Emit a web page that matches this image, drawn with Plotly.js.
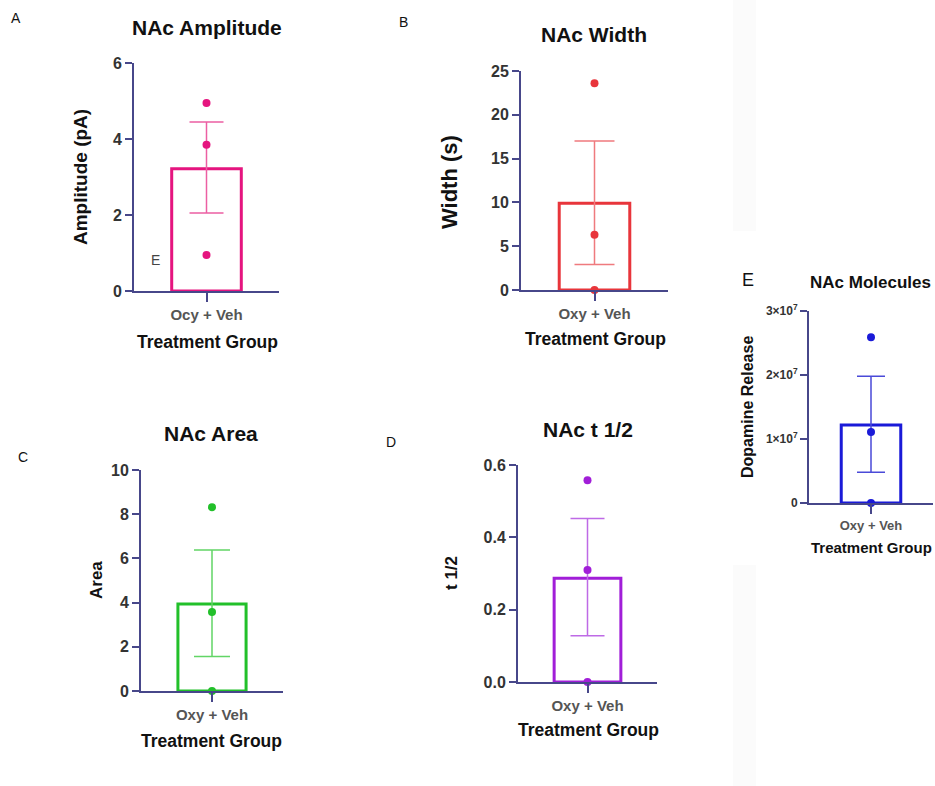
<!DOCTYPE html>
<html>
<head>
<meta charset="utf-8">
<script src="https://cdn.plot.ly/plotly-3.0.1.min.js"></script>
<style>html,body{margin:0;padding:0;background:#fff;}#chart{width:935px;height:786px;}</style>
</head>
<body>
<div id="chart"></div>
<script>
// ---- data ----
const catA = ["Ocy + Veh"];
const catOther = ["Oxy + Veh"];

const ampMean = [3.22];
const ampErrPlus = [1.23];
const ampErrMinus = [1.17];
const ampPoints = [4.95, 3.85, 0.95];

const widthMean = [9.9];
const widthErrPlus = [7.1];
const widthErrMinus = [7.0];
const widthPoints = [23.6, 6.3, 0];

const areaMean = [3.94];
const areaErrPlus = [2.44];
const areaErrMinus = [2.38];
const areaPoints = [8.32, 3.57, 0];

const t12Mean = [0.287];
const t12ErrPlus = [0.165];
const t12ErrMinus = [0.159];
const t12Points = [0.558, 0.31, 0];

const molMean = [1.22e7];
const molErrPlus = [0.76e7];
const molErrMinus = [0.74e7];
const molPoints = [2.59e7, 1.11e7, 0];

const molTickVals = [0, 1e7, 2e7, 3e7];
const molTickText = ["0", "1×10<sup>7</sup>", "2×10<sup>7</sup>", "3×10<sup>7</sup>"];

// ---- layout helpers ----
const W = 935, H = 786;
const px = x => x / W;
const py = y => 1 - y / H;
const AXIS = "#47478a";
const FONT = "Liberation Sans, Arial, sans-serif";

const panels = [
  {id:"", cats:catA, mean:ampMean, ep:ampErrPlus, em:ampErrMinus, pts:ampPoints,
   color:"#e5157f", ecolor:"#ec5fa3", box:[134,279,63,291], range:[0,6], dtick:2, cap:17, tfs:16, cfs:15},
  {id:"2", cats:catOther, mean:widthMean, ep:widthErrPlus, em:widthErrMinus, pts:widthPoints,
   color:"#e8353b", ecolor:"#ef7a7e", box:[521,668,71,290], range:[0,25], dtick:5, cap:20, tfs:16, cfs:15},
  {id:"3", cats:catOther, mean:areaMean, ep:areaErrPlus, em:areaErrMinus, pts:areaPoints,
   color:"#22c02a", ecolor:"#62d566", box:[141,283,470,691], range:[0,10], dtick:2, cap:18, tfs:16, cfs:15},
  {id:"4", cats:catOther, mean:t12Mean, ep:t12ErrPlus, em:t12ErrMinus, pts:t12Points,
   color:"#a11ed8", ecolor:"#be6ae6", box:[518,657,465,682], range:[0,0.6], dtick:0.2, cap:17, tfs:16, cfs:15, fmt:".1f"},
  {id:"5", cats:catOther, mean:molMean, ep:molErrPlus, em:molErrMinus, pts:molPoints,
   color:"#1a1ad8", ecolor:"#4a4ad8", box:[809,933,311,503], range:[0,3e7], cap:14, tfs:12, cfs:13,
   tickvals:molTickVals, ticktext:molTickText}
];

const traces = [];
const layout = {
  width: W, height: H,
  margin: {l:0, r:0, t:0, b:0},
  paper_bgcolor: "#ffffff",
  plot_bgcolor: "rgba(0,0,0,0)",
  showlegend: false,
  font: {family: FONT, color: "#333"},
  annotations: [],
  shapes: [
    {type:"rect", xref:"paper", yref:"paper", x0:px(733), x1:px(756), y0:py(231), y1:py(0),
     fillcolor:"#fbfbfb", line:{width:0}, layer:"below"},
    {type:"rect", xref:"paper", yref:"paper", x0:px(733), x1:px(756), y0:py(786), y1:py(565),
     fillcolor:"#fbfbfb", line:{width:0}, layer:"below"}
  ]
};

panels.forEach(p => {
  const xa = "x" + p.id, ya = "y" + p.id;
  traces.push({
    type: "bar", x: p.cats, y: p.mean, xaxis: xa, yaxis: ya, width: 0.48,
    marker: {color: "rgba(0,0,0,0)", line: {color: p.color, width: 3}},
    error_y: {type: "data", symmetric: false, array: p.ep, arrayminus: p.em,
              color: p.ecolor, thickness: 1.5, width: p.cap},
    hoverinfo: "skip"
  });
  traces.push({
    type: "scatter", mode: "markers", x: p.pts.map(() => p.cats[0]), y: p.pts,
    xaxis: xa, yaxis: ya, cliponaxis: false,
    marker: {color: p.color, size: 8}
  });
  const [x0, x1, y0, y1] = p.box;
  const xKey = "xaxis" + p.id, yKey = "yaxis" + p.id;
  layout[xKey] = {
    domain: [px(x0), px(x1)], anchor: ya, type: "category", range: [-0.5, 0.5],
    showline: true, linecolor: AXIS, linewidth: 2, showgrid: false, zeroline: false,
    ticks: "outside", ticklen: 9, tickwidth: 2, tickcolor: AXIS,
    tickfont: {size: p.cfs, color: "#555", family: FONT, weight: "bold"}, fixedrange: true
  };
  const yax = {
    domain: [py(y1), py(y0)], anchor: xa, range: p.range,
    showline: true, linecolor: AXIS, linewidth: 2, showgrid: false, zeroline: false,
    ticks: "outside", ticklen: 7, tickwidth: 2, tickcolor: AXIS,
    tickfont: {size: p.tfs, color: "#333", family: FONT, weight: "bold"}, fixedrange: true
  };
  if (p.tickvals) { yax.tickmode = "array"; yax.tickvals = p.tickvals; yax.ticktext = p.ticktext; }
  else { yax.tickmode = "linear"; yax.tick0 = 0; yax.dtick = p.dtick; }
  if (p.fmt) yax.tickformat = p.fmt;
  layout[yKey] = yax;
});

function ann(text, x, y, size, opts) {
  layout.annotations.push(Object.assign({
    text: text, xref: "paper", yref: "paper", x: px(x), y: py(y),
    xanchor: "center", yanchor: "middle", showarrow: false,
    font: {size: size, color: "#111", family: FONT}
  }, opts || {}));
}
const bold = s => "<b>" + s + "</b>";

// Panel letters
ann("A", 16, 18, 14);
ann("B", 403, 22, 14);
ann("C", 23, 457, 14);
ann("D", 391, 442, 14);
ann("E", 748, 280, 18);
// stray letter in panel A
ann("E", 155, 260, 14, {font:{size:14, color:"#444", family:FONT}});

// Titles
ann(bold("NAc Amplitude"), 207, 27, 21);
ann(bold("NAc Width"), 594, 35, 21);
ann(bold("NAc Area"), 211, 433, 21);
ann(bold("NAc t 1/2"), 588, 430, 21);
ann(bold("NAc Molecules"), 870, 282, 17);

// Y titles
ann(bold("Amplitude (pA)"), 80, 177, 19, {textangle: -90});
ann(bold("Width (s)"), 449, 182, 22, {textangle: -90});
ann(bold("Area"), 96, 580, 17, {textangle: -90});
ann(bold("t 1/2"), 451, 573, 17, {textangle: -90});
ann(bold("Dopamine Release"), 747, 407, 16, {textangle: -90});

// X titles
ann(bold("Treatment Group"), 207, 342, 17.5);
ann(bold("Treatment Group"), 595, 339, 17.5);
ann(bold("Treatment Group"), 211, 741, 17.5);
ann(bold("Treatment Group"), 588, 730, 17.5);
ann(bold("Treatment Group"), 871, 547, 15);

Plotly.newPlot("chart", traces, layout, {displayModeBar: false, staticPlot: true});
</script>
</body>
</html>
